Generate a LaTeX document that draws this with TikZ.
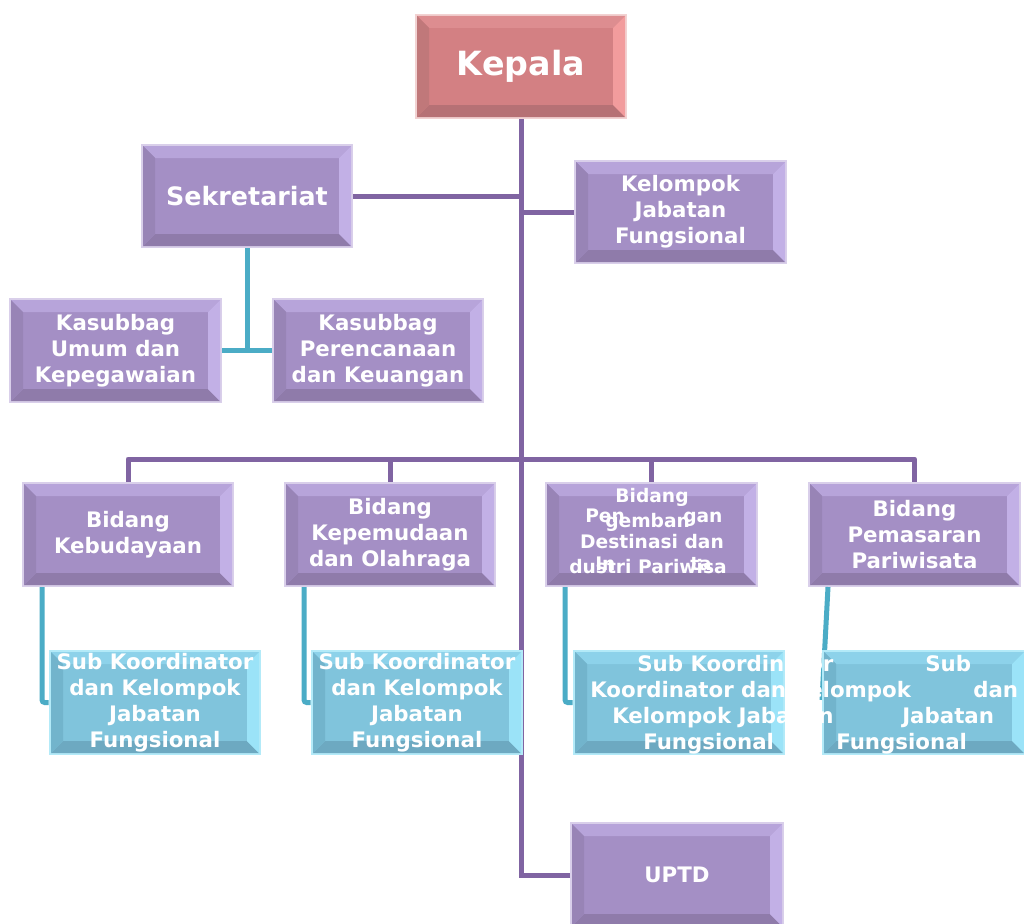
\documentclass[tikz,border=0pt]{standalone}
\usepackage{fontspec}
\setmainfont{DejaVu Sans}
\usetikzlibrary{fit}
\definecolor{purOut}{HTML}{D9CFEA}
\definecolor{purFace}{HTML}{A48FC5}
\definecolor{purTop}{HTML}{B7A4DA}
\definecolor{purRight}{HTML}{C2B0E6}
\definecolor{purLeft}{HTML}{9884B6}
\definecolor{purBot}{HTML}{8F7BAA}
\definecolor{pinOut}{HTML}{F2D2D2}
\definecolor{pinFace}{HTML}{D38083}
\definecolor{pinTop}{HTML}{DD8D90}
\definecolor{pinRight}{HTML}{F29C9D}
\definecolor{pinLeft}{HTML}{C0787A}
\definecolor{pinBot}{HTML}{B67175}
\definecolor{bluOut}{HTML}{B3EAF8}
\definecolor{bluFace}{HTML}{80C4DC}
\definecolor{bluTop}{HTML}{8DD2EA}
\definecolor{bluRight}{HTML}{9BE3F8}
\definecolor{bluLeft}{HTML}{72B4CC}
\definecolor{bluBot}{HTML}{6DA9C1}
\definecolor{lineP}{HTML}{8064A2}
\definecolor{lineB}{HTML}{4BACC6}
\newcommand{\bevbox}[6]{%
 \fill[#6Out] (#2,#3) rectangle (#4,#5);
 \fill[#6Face] (#2+2,#3+2) rectangle (#4-2,#5-2);
 \fill[#6Top] (#2+2,#3+2) -- (#4-2,#3+2) -- (#4-14,#3+14) -- (#2+14,#3+14) -- cycle;
 \fill[#6Bot] (#2+2,#5-2) -- (#4-2,#5-2) -- (#4-14,#5-14) -- (#2+14,#5-14) -- cycle;
 \fill[#6Left] (#2+2,#3+2) -- (#2+14,#3+14) -- (#2+14,#5-14) -- (#2+2,#5-2) -- cycle;
 \fill[#6Right] (#4-2,#3+2) -- (#4-14,#3+14) -- (#4-14,#5-14) -- (#4-2,#5-2) -- cycle;
 \path (#2,#3) coordinate (#1-a) (#4,#5) coordinate (#1-b);
 \node[fit=(#1-a)(#1-b), inner sep=0pt, outer sep=0pt] (#1) {};
}
\begin{document}
\begin{tikzpicture}[x=0.75pt,y=-0.75pt,
  purline/.style={draw=lineP, line width=3.75pt},
  bluline/.style={draw=lineB, line width=3.75pt, rounded corners=2pt},
  txt/.style={text=white, font=\bfseries\fontsize{16}{19.5}\selectfont, align=center, inner sep=0pt},
  frag/.style={text=white, font=\bfseries\fontsize{16}{19.5}\selectfont, anchor=base west, inner sep=0pt},
  sfrag/.style={text=white, font=\bfseries\fontsize{14}{17}\selectfont, anchor=base west, inner sep=0pt},
  scen/.style={text=white, font=\bfseries\fontsize{14}{17}\selectfont, anchor=base, inner sep=0pt}]
\useasboundingbox (0,0) rectangle (1024,924);
\fill[white] (0,0) rectangle (1024,924);
% ---------- upper boxes ----------
\bevbox{kep}{415}{14}{627}{119}{pin}
\bevbox{sek}{141}{144}{353}{248}{pur}
\bevbox{kjf}{574}{160}{787}{264}{pur}
\bevbox{kpu}{9}{298}{222}{403}{pur}
\bevbox{kpk}{272}{298}{484}{403}{pur}
\bevbox{bk}{22}{482}{234}{587}{pur}
\bevbox{bko}{284}{482}{496}{587}{pur}
\bevbox{bpg}{545}{482}{758}{587}{pur}
\bevbox{bpm}{808}{482}{1021}{587}{pur}
\coordinate (busy) at (0,459);
% geometry of lower boxes (drawn later, on top of connectors)
\path (49,650) coordinate (s1-a) (261,755) coordinate (s1-b);
\path (311,650) coordinate (s2-a) (523,755) coordinate (s2-b);
\path (573,650) coordinate (s3-a) (785,755) coordinate (s3-b);
\path (822,650) coordinate (s4-a) (1026,755) coordinate (s4-b);
\path (570,822) coordinate (up-a) (784,928) coordinate (up-b);
\node[fit=(s1-a)(s1-b), inner sep=0pt] (sk1) {};
\node[fit=(s2-a)(s2-b), inner sep=0pt] (sk2) {};
\node[fit=(s3-a)(s3-b), inner sep=0pt] (sk3) {};
\node[fit=(s4-a)(s4-b), inner sep=0pt] (sk4) {};
\node[fit=(up-a)(up-b), inner sep=0pt] (upt) {};
% ---------- connectors ----------
\draw[purline] (kep.south) -- (kep.south |- busy);
\draw[purline] (sek.east) -- (sek.east -| kep.south);
\draw[purline] (kjf.west) -- (kjf.west -| kep.south);
\draw[purline, line join=round] (bk.north) -- (bk.north |- busy) -- (bpm.north |- busy) -- (bpm.north);
\draw[purline] (bko.north |- busy) -- (bko.north);
\draw[purline] (bpg.north |- busy) -- (bpg.north);
\draw[purline] (kep.south |- busy) |- (upt.west);
\draw[bluline] (sek.south) -- (sek.south |- kpu.east);
\draw[bluline] (kpu.east) -- (kpk.west);
\draw[bluline] ([xshift=15pt]bk.south west) |- (sk1.west);
\draw[bluline] ([xshift=15pt]bko.south west) |- (sk2.west);
\draw[bluline] ([xshift=15pt]bpg.south west) |- (sk3.west);
\coordinate (s4end) at (822,700);
\draw[bluline] ([xshift=15pt]bpm.south west) -- (s4end);
% ---------- lower boxes ----------
\bevbox{sk1}{49}{650}{261}{755}{blu}
\bevbox{sk2}{311}{650}{523}{755}{blu}
\bevbox{sk4}{822}{650}{1026}{755}{blu}
\bevbox{sk3}{573}{650}{785}{755}{blu}
\bevbox{upt}{570}{822}{784}{928}{pur}
% ---------- texts ----------
\node[txt, font=\bfseries\fontsize{25}{30}\selectfont] at (kep) {Kepala};
\node[txt, font=\bfseries\fontsize{19}{23}\selectfont] at (sek) {Sekretariat};
\node[txt] at (kjf) {Kelompok\\Jabatan\\Fungsional};
\node[txt] at (kpu) {Kasubbag\\Umum dan\\Kepegawaian};
\node[txt] at (kpk) {Kasubbag\\Perencanaan\\dan Keuangan};
\node[txt] at (bk) {Bidang\\Kebudayaan};
\node[txt] at (bko) {Bidang\\Kepemudaan\\dan Olahraga};
\node[txt] at (bpm) {Bidang\\Pemasaran\\Pariwisata};
\node[txt] at (sk1) {Sub Koordinator\\dan Kelompok\\Jabatan\\Fungsional};
\node[txt] at (sk2) {Sub Koordinator\\dan Kelompok\\Jabatan\\Fungsional};
\node[txt] at (upt) {UPTD};
% Bidang Pengembangan (overlapping lines as printed)
\node[scen] at (652,502) {Bidang};
\node[sfrag] at (585,522) {Pen};
\node[sfrag] at (683,522) {gan};
\node[sfrag] at (605,527) {gemban};
\node[scen] at (652,548) {Destinasi dan};
\node[sfrag] at (595,570) {In};
\node[sfrag] at (690,570) {ta};
\node[sfrag] at (569,573) {dustri Pariwisa};
% Sub box 3 fragments
\node[frag] at (637,671) {Sub Koordina};
\node[frag] at (808,671) {or};
\node[frag] at (590,697) {Koordinator dan};
\node[frag] at (808,697) {elompok};
\node[frag] at (612,723) {Kelompok Jaba};
\node[frag] at (818,723) {n};
\node[frag] at (643,749) {Fungsional};
% Sub box 4 fragments
\node[frag] at (925,671) {Sub};
\node[frag] at (973,697) {dan};
\node[frag] at (902,723) {Jabatan};
\node[frag] at (836,749) {Fungsional};
\end{tikzpicture}
\end{document}
